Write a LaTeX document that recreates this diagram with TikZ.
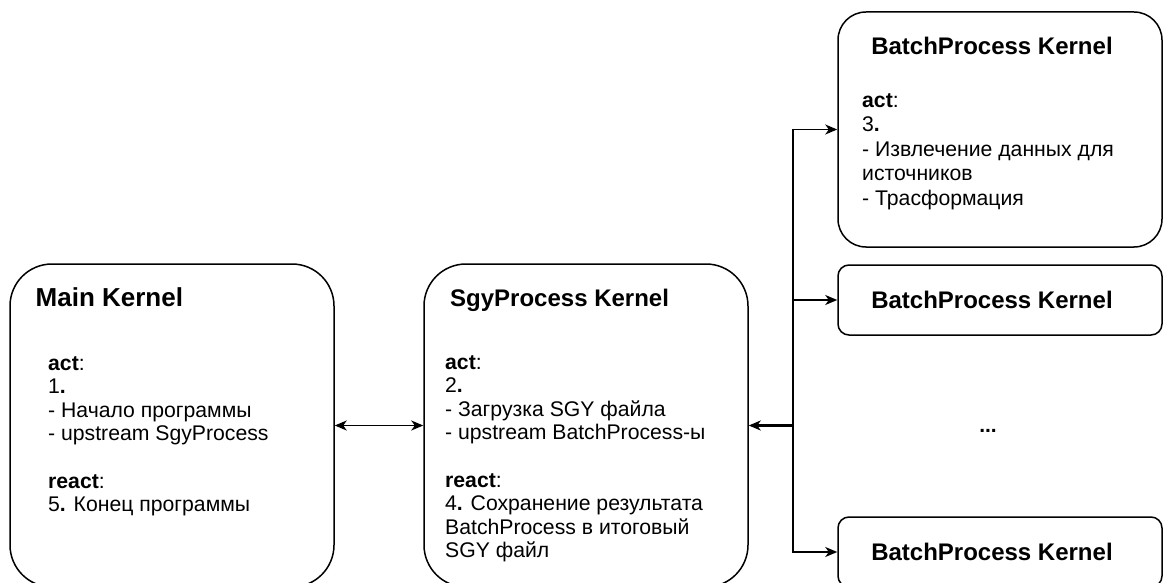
\documentclass[tikz,border=0pt]{standalone}
\usepackage{fontspec}
\setmainfont{Liberation Sans}
\usetikzlibrary{arrows.meta}
\begin{document}
\begin{tikzpicture}[x=1pt,y=-1pt,
  box/.style={draw=black, line width=1.5pt, inner sep=0pt, minimum width=324pt},
  title/.style={inner sep=0pt, anchor=base west, font=\fontsize{24}{28}\selectfont\bfseries},
  body/.style={inner sep=0pt, anchor=base west, align=left, font=\fontsize{21.2}{23.6}\selectfont},
  arr/.style={line width=1.5pt, -{Stealth[length=12pt,width=10pt,inset=3.5pt]}},
  biarr/.style={line width=1.5pt, {Stealth[length=12pt,width=10pt,inset=3.5pt]}-{Stealth[length=12pt,width=10pt,inset=3.5pt]}},
  thickarr/.style={line width=2.2pt, -{Stealth[length=12pt,width=10pt,inset=3.5pt]}}]
\useasboundingbox (0,0) rectangle (1163,583);
\begin{scope}
\clip (0,0) rectangle (1163,583);
% boxes
\node[box, minimum height=323pt, rounded corners=42pt] (main) at (172,425.5) {};
\node[box, minimum height=323pt, rounded corners=42pt] (sgy) at (586,425.5) {};
\node[box, minimum height=235pt, rounded corners=28pt] (b1) at (1000,129.5) {};
\node[box, minimum height=70pt, rounded corners=11pt] (b2) at (1000,300) {};
\node[box, minimum height=70pt, rounded corners=11pt] (b4) at (1000,552) {};
\end{scope}
% texts (base anchor = baseline of the last line)
\node[title, font=\fontsize{26}{30}\selectfont\bfseries] (mainT) at (35.5,306) {Main Kernel};
\node[body] (mainB) at (48,511.6) {\textbf{act}:\\1\textbf{.}\\- Начало программы\\- upstream SgyProcess\\[23.6pt]\textbf{react}:\\5\textbf{.} Конец программы};
\node[title] (sgyT) at (450,306) {SgyProcess Kernel};
\node[body] (sgyB) at (445,557.8) {\textbf{act}:\\2\textbf{.}\\- Загрузка SGY файла\\- upstream BatchProcess-ы\\[23.6pt]\textbf{react}:\\4\textbf{.} Сохранение результата\\BatchProcess в итоговый\\SGY файл};
\node[title, anchor=base] (b1T) at (992,55) {BatchProcess Kernel};
\node[body, font=\fontsize{21.2}{24.5}\selectfont] (b1B) at (862,205) {\textbf{act}:\\3\textbf{.}\\- Извлечение данных для\\источников\\- Трасформация};
\node[title, anchor=base] (b2T) at (992,308) {BatchProcess Kernel};
\node[title, anchor=base] (b4T) at (992,560) {BatchProcess Kernel};
\node[inner sep=0pt, anchor=base, font=\fontsize{21}{24}\selectfont\bfseries] (dots) at (988,432) {...};
% connectors
\coordinate (hub) at (793,425.5);
\draw[biarr] (main) -- (sgy);
\draw[thickarr] (hub) -- (sgy.east);
\draw[arr] (hub) |- (b1.west);
\draw[arr] (hub) |- (b2.west);
\draw[arr] (hub) |- (b4.west);
\end{tikzpicture}
\end{document}
